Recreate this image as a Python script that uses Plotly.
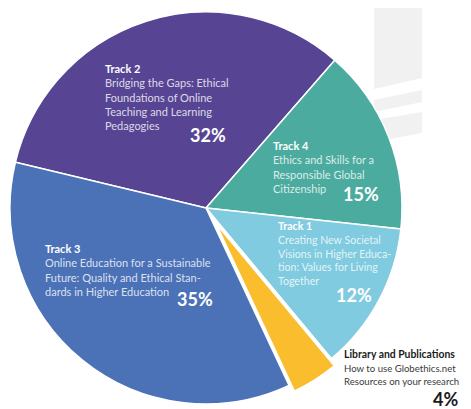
import plotly.graph_objects as go

# page body has an 8px margin: the figure is sized and positioned to compensate
OFF = 8
W, H = 471 - OFF, 409 - OFF

# ---- data ----
track_names = ["Track 2", "Track 4", "Track 1", "Library and Publications", "Track 3"]
track_descs = [
    "Bridging the Gaps: Ethical<br>Foundations of Online<br>Teaching and Learning<br>Pedagogies",
    "Ethics and Skills for a<br>Responsible Global<br>Citizenship",
    "Creating New Societal<br>Visions in Higher Educa-<br>tion: Values for Living<br>Together",
    "How to use Globethics.net<br>Resources on your research",
    "Online Education for a Sustainable<br>Future: Quality and Ethical Stan-<br>dards in Higher Education",
]
shares = [32, 15, 12, 4, 35]
pct_labels = ["32%", "15%", "12%", "4%", "35%"]
colors = ["#574594", "#4cab9f", "#80cbe0", "#f9bd2e", "#4b72b7"]


def px(x):
    return (x - OFF) / W


def py(y):
    return 1 - (y - OFF) / H


fig = go.Figure()

# main pie (library slice left empty: it is drawn pulled out below)
main_colors = [c if i != 3 else "white" for i, c in enumerate(colors)]
cx, cy, r = 206, 208, 196
fig.add_trace(go.Pie(
    values=shares, labels=track_names, sort=False, direction="clockwise",
    rotation=283.5, textinfo="none", hoverinfo="none", showlegend=False,
    marker=dict(colors=main_colors, line=dict(color="white", width=1.5)),
    domain=dict(x=[px(cx - r), px(cx + r)], y=[py(cy + r), py(cy - r)]),
))

# library slice pulled out
lx, ly = 215.2, 222.3
lr = 409 - ly
lib_colors = ["rgba(0,0,0,0)" if i != 3 else c for i, c in enumerate(colors)]
lib_lw = [0 if i != 3 else 2 for i in range(len(colors))]
fig.add_trace(go.Pie(
    values=shares, labels=track_names, sort=False, direction="clockwise",
    rotation=283.5, textinfo="none", hoverinfo="none", showlegend=False,
    marker=dict(colors=lib_colors, line=dict(color="white", width=lib_lw)),
    domain=dict(x=[px(lx - lr), px(lx + lr)], y=[0, py(ly - lr)]),
))

# decorative background stripes
grey = "#f1f1f1"
polys = [
    [(374, 0), (422, 0), (422, 78), (374, 89)],
    [(374, 100), (422, 90), (422, 102), (374, 112)],
    [(374, 120), (422, 112), (422, 133), (374, 142)],
]
for poly in polys:
    path = "M " + " L ".join(f"{px(x):.4f},{py(y):.4f}" for x, y in poly) + " Z"
    fig.add_shape(type="path", path=path, xref="paper", yref="paper",
                  fillcolor=grey, line=dict(width=0), layer="below")

# labels
label_pos = [  # (left x, first line center y)
    (103, 68), (271, 145), (276, 226), (342, 354), (43, 248)
]
pct_pos = [  # (right x, center y)
    (228, 135), (381, 194), (374, 295), (460, 399), (215, 299)
]
title_size = [11, 11, 10.6, 10.4, 11]
body_size = [11, 11, 10.6, 9.6, 11]
FONT = "Lato, 'Open Sans', sans-serif"
for i in range(len(track_names)):
    if i == 3:
        tcol, bcol, pcol = "#1a1a1a", "#3a3a3a", "#1a1a1a"
    else:
        tcol, bcol, pcol = "white", "rgba(255,255,255,0.8)", "white"
    x, y = label_pos[i]
    fig.add_annotation(
        x=px(x), y=py(y - 8), xref="paper", yref="paper",
        xanchor="left", yanchor="top", align="left", showarrow=False,
        text=(f"<b>{track_names[i]}</b><br>"
              f"<span style='color:{bcol};font-size:{body_size[i]}px'>{track_descs[i]}</span>"),
        font=dict(family=FONT, size=title_size[i], color=tcol),
    )
    x, y = pct_pos[i]
    fig.add_annotation(
        x=px(x), y=py(y), xref="paper", yref="paper",
        xanchor="right", yanchor="middle", showarrow=False,
        text=f"<b>{pct_labels[i]}</b>",
        font=dict(family=FONT, size=18, color=pcol),
    )

fig.update_layout(
    width=W, height=H, margin=dict(l=0, r=0, t=0, b=0),
    paper_bgcolor="white", plot_bgcolor="white",
)
fig.write_html("out.html")
